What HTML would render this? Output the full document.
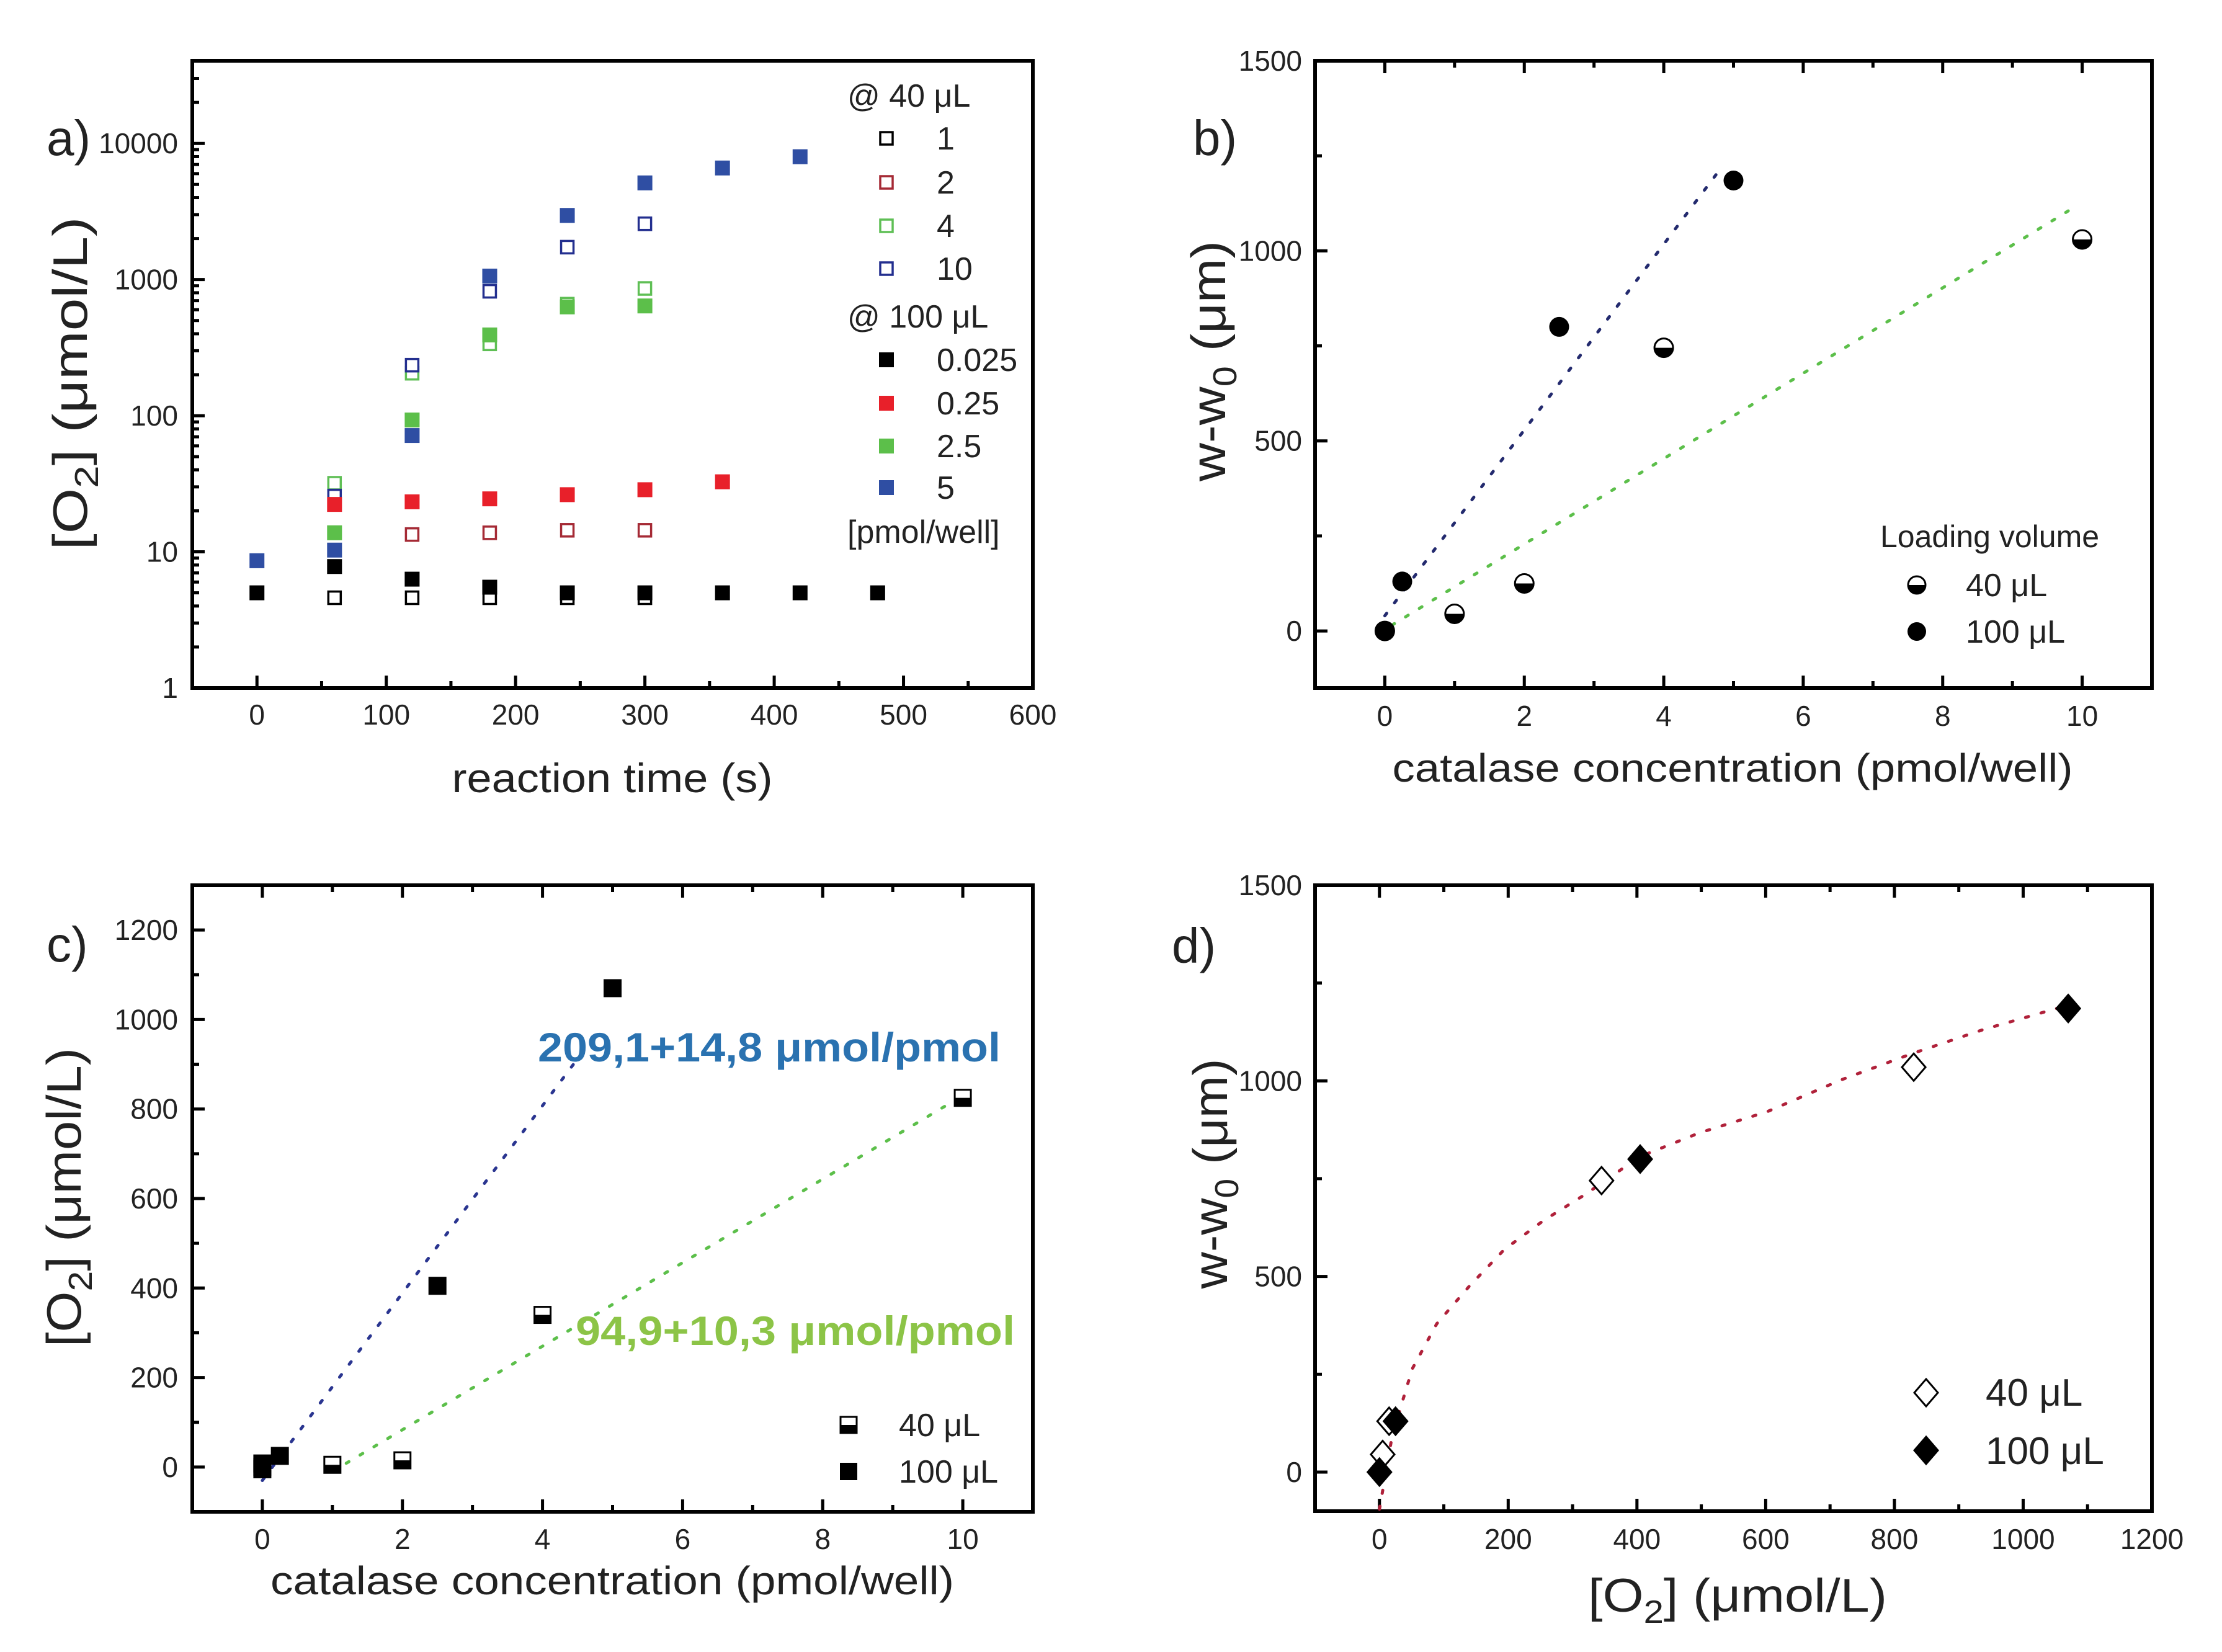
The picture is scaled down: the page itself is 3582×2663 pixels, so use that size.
<!DOCTYPE html>
<html><head><meta charset="utf-8"><style>
html,body{margin:0;padding:0;background:#fff;}
svg{display:block;font-family:"Liberation Sans",Arial,sans-serif;}
</style></head><body>
<svg id="fig" width="3582" height="2663" viewBox="0 0 3582 2663" xmlns="http://www.w3.org/2000/svg"></svg>
<script>
// ---------- Panel a data (reaction time, log O2) ----------
const aTimes = [0,60,120,180,240,300,360,420,480];
const aOpen1 = [null,4.6,4.6,4.6,4.6,4.6,null,null,null];
const aOpen2 = [null,null,13.4,13.8,14.4,14.4,null,null,null];
const aOpen4 = [null,31.9,205,337,660,860,null,null,null];
const aOpen10 = [null,25.7,235,820,1730,2570,null,null,null];
const aFill0025 = [5,7.8,6.3,5.5,5,5,5,5,5];
const aFill025 = [null,22.3,23.3,24.5,26.3,28.6,32.7,null,null];
const aFill25 = [null,13.8,93,392,630,640,null,null,null];
const aFill5 = [8.6,10.3,71.5,1060,2960,5130,6600,7990,null];
const aXTicks = [0,100,200,300,400,500,600];
const aYTicks = [1,10,100,1000,10000];
const aYTickLabels = ["1","10","100","1000","10000"];

// ---------- Panel b data ----------
const bX40 = [0,1,2,4,10];
const bY40 = [0,45,125,745,1030];
const bX100 = [0,0.25,2.5,5];
const bY100 = [0,130,800,1185];
const bFit100X = [0,4.85];
const bFit100Y = [40,1225];
const bFit40X = [0.1,9.8];
const bFit40Y = [15,1105];
const bXTicks = [0,2,4,6,8,10];
const bYTicks = [0,500,1000,1500];

// ---------- Panel c data ----------
const cX40 = [0,1,2,4,10];
const cY40 = [0,5,15,340,825];
const cX100 = [0,0,0.25,2.5,5];
const cY100 = [-5,8,25,405,1070];
const cFit100X = [0,4.8];
const cFit100Y = [-30,975];
const cFit40X = [1,10];
const cFit40Y = [-10,830];
const cXTicks = [0,2,4,6,8,10];
const cYTicks = [0,200,400,600,800,1000,1200];

// ---------- Panel d data ----------
const dX40 = [5,15,345,830];
const dY40 = [45,130,745,1035];
const dX100 = [0,25,405,1070];
const dY100 = [0,130,800,1185];
const dFitX = [0,20,51,89,139,194,255,321,404,497,602,718,828,938,1054];
const dFitY = [-95,95,264,379,474,569,643,711,806,867,921,1003,1070,1131,1186];
const dXTicks = [0,200,400,600,800,1000,1200];
const dYTicks = [0,500,1000,1500];

const NS = "http://www.w3.org/2000/svg";
const svg = document.getElementById('fig');
function mk(tag, attrs, parent, text){
  const e = document.createElementNS(NS, tag);
  for (const k in attrs) e.setAttribute(k, attrs[k]);
  if (text !== undefined) e.textContent = text;
  (parent||svg).appendChild(e);
  return e;
}
function makePanel(name, L, R, T, B, xmin, xmax, ymin, ymax, log){
  const g = mk('g', {});
  
  
  const p = {g, L, R, T, B,
    sx: v => L + (v - xmin) / (xmax - xmin) * (R - L),
    sy: v => { const t = log ? Math.log10(v) : v; return B - (t - ymin) / (ymax - ymin) * (B - T); }
  };
  return p;
}
function frame(p, topTicks, xMaj, xMin, yMaj, yMin, xLabels, yLabels, xLabY, yLabX){
  const f = mk('rect', {x:p.L, y:p.T, width:p.R-p.L, height:p.B-p.T, fill:'none', stroke:'#000', 'stroke-width':6}, p.g);
  
  
  const tg = mk('g', {stroke:'#000', 'stroke-width':5}, p.g);
  
  
  xMaj.forEach(v => { const x = p.sx(v); mk('line', {x1:x, x2:x, y1:p.B, y2:p.B-20}, tg); if (topTicks) mk('line', {x1:x, x2:x, y1:p.T, y2:p.T+20}, tg); });
  xMin.forEach(v => { const x = p.sx(v); mk('line', {x1:x, x2:x, y1:p.B, y2:p.B-11}, tg); if (topTicks) mk('line', {x1:x, x2:x, y1:p.T, y2:p.T+11}, tg); });
  yMaj.forEach(v => { const y = p.sy(v); mk('line', {x1:p.L, x2:p.L+20, y1:y, y2:y}, tg); });
  yMin.forEach(v => { const y = p.sy(v); mk('line', {x1:p.L, x2:p.L+11, y1:y, y2:y}, tg); });
  xMaj.forEach((v,i) => {
    const t = mk('text', {x:p.sx(v), y:xLabY, 'font-size':46, 'text-anchor':'middle', fill:'#222'}, p.g, xLabels[i]);
    
    
  });
  yMaj.forEach((v,i) => {
    const t = mk('text', {x:yLabX, y:p.sy(v)+16, 'font-size':46, 'text-anchor':'end', fill:'#222'}, p.g, yLabels[i]);
    
    
  });
}
function square(parent, cx, cy, s, style){
  const h = s/2;
  if (style === 'half'){
    mk('rect', {x:cx-h, y:cy-h, width:s, height:s, fill:'#fff', stroke:'#000', 'stroke-width':3}, parent);
    mk('rect', {x:cx-h, y:cy, width:s, height:h, fill:'#000'}, parent);
  } else if (style.open){
    mk('rect', {x:cx-h+2, y:cy-h+2, width:s-4, height:s-4, fill:'#fff', stroke:style.open, 'stroke-width':3.5}, parent);
  } else {
    mk('rect', {x:cx-h, y:cy-h, width:s, height:s, fill:style.fill}, parent);
  }
}
function halfCircle(parent, cx, cy, r){
  mk('circle', {cx, cy, r, fill:'#fff', stroke:'#000', 'stroke-width':3}, parent);
  mk('path', {d:`M${cx-r},${cy} A${r},${r} 0 0 0 ${cx+r},${cy} Z`, fill:'#000'}, parent);
}
function diamond(parent, cx, cy, w, h, filled){
  mk('polygon', {points:`${cx},${cy-h/2} ${cx+w/2},${cy} ${cx},${cy+h/2} ${cx-w/2},${cy}`, fill:filled?'#000':'#fff', stroke:'#000', 'stroke-width':3}, parent);
}
function dotted(p, xs, ys, color, name){
  const pts = xs.map((x,i) => p.sx(x)+','+p.sy(ys[i])).join(' ');
  const l = mk('polyline', {points:pts, fill:'none', stroke:color, 'stroke-width':5, 'stroke-dasharray':'5 21', 'stroke-linecap':'round'}, p.g);
  
  
}
function txt(parent, x, y, size, s, name, extra){
  const a = Object.assign({x, y, 'font-size':size, fill:'#222'}, extra||{});
  const t = mk('text', a, parent, s);
  
  
  return t;
}
function ytitle(parent, cx, cy, size, len, content, name){
  const t = mk('text', {transform:`translate(${cx},${cy}) rotate(-90)`, 'font-size':size, 'text-anchor':'middle', fill:'#222', textLength:len, lengthAdjust:'spacingAndGlyphs'}, parent);
  t.innerHTML = content;
  
  
}

// ================= Panel a =================
const pa = makePanel('panel-a', 310, 1665, 98, 1109, -50, 600, 0, 4.607, true);
const aMinorY = []; [1,10,100,1000,10000].forEach(d => { for (let k=2;k<=9;k++){ if (Math.log10(d*k) < 4.6) aMinorY.push(d*k); } });
frame(pa, false, aXTicks, [-50,50,150,250,350,450,550], aYTicks, aMinorY, aXTicks.map(String), aYTickLabels, 1168, 287);
const aSeries = [
  {vals:aOpen1, st:{open:'#000'}, n:'series-40ul-1'},
  {vals:aOpen2, st:{open:'#a52a35'}, n:'series-40ul-2'},
  {vals:aOpen4, st:{open:'#5fbf55'}, n:'series-40ul-4'},
  {vals:aOpen10, st:{open:'#232f8f'}, n:'series-40ul-10'},
  {vals:aFill0025, st:{fill:'#000'}, n:'series-100ul-0025'},
  {vals:aFill025, st:{fill:'#e8202a'}, n:'series-100ul-025'},
  {vals:aFill25, st:{fill:'#5cbf4a'}, n:'series-100ul-25'},
  {vals:aFill5, st:{fill:'#2f4ea3'}, n:'series-100ul-5'}
];
aSeries.forEach(s => {
  const g = mk('g', {}, pa.g);
  
  
  s.vals.forEach((v,i) => { if (v !== null) square(g, pa.sx(aTimes[i]), pa.sy(v), 24, s.st); });
});
const aLeg = mk('g', {}, pa.g);


txt(aLeg, 1366, 172, 52, '@ 40 μL', 'legend-header-40ul');
const aLegLabels = ['1','2','4','10'];
const aLegLabels2 = ['0.025','0.25','2.5','5'];
const aLegRows = [223,294,364,433];
const aLegRows2 = [580,650,719,786];
aSeries.slice(0,4).forEach((s,i) => { square(aLeg, 1429, aLegRows[i], 24, s.st); txt(aLeg, 1510, aLegRows[i]+18, 52, aLegLabels[i], 'legend-entry'); });
txt(aLeg, 1366, 528, 52, '@ 100 μL', 'legend-header-100ul');
aSeries.slice(4).forEach((s,i) => { square(aLeg, 1429, aLegRows2[i], 24, s.st); txt(aLeg, 1510, aLegRows2[i]+18, 52, aLegLabels2[i], 'legend-entry'); });
txt(aLeg, 1366, 875, 52, '[pmol/well]', 'legend-unit');
txt(pa.g, 75, 250, 80, 'a)', 'panel-label-a');
txt(pa.g, 987, 1277, 66, 'reaction time (s)', 'x-axis-title', {'text-anchor':'middle', textLength:517, lengthAdjust:'spacingAndGlyphs'});
ytitle(pa.g, 140, 618, 78, 537, '[O<tspan font-size="54" dy="18">2</tspan><tspan dy="-18">] (μmol/L)</tspan>', 'y-axis-title');

// ================= Panel b =================
const pb = makePanel('panel-b', 2120, 3469, 98, 1109, -1, 11, -150, 1500, false);
frame(pb, true, bXTicks, [1,3,5,7,9], bYTicks, [250,750,1250], bXTicks.map(String), bYTicks.map(String), 1170, 2099);
dotted(pb, bFit100X, bFit100Y, '#232a6e', 'fit-line-100ul');
dotted(pb, bFit40X, bFit40Y, '#5cbf4a', 'fit-line-40ul');
const b40 = mk('g', {}, pb.g);


bX40.forEach((x,i) => halfCircle(b40, pb.sx(x), pb.sy(bY40[i]), 15));
const b100 = mk('g', {}, pb.g);


bX100.forEach((x,i) => mk('circle', {cx:pb.sx(x), cy:pb.sy(bY100[i]), r:16, fill:'#000'}, b100));
txt(pb.g, 3031, 882, 50, 'Loading volume', 'legend-title');
halfCircle(pb.g, 3090, 943, 14);
txt(pb.g, 3169, 961, 52, '40 μL', 'legend-entry-40ul');
mk('circle', {cx:3090, cy:1018, r:15, fill:'#000'}, pb.g);
txt(pb.g, 3169, 1036, 52, '100 μL', 'legend-entry-100ul');
txt(pb.g, 1923, 250, 80, 'b)', 'panel-label-b');
txt(pb.g, 2793, 1260, 64, 'catalase concentration (pmol/well)', 'x-axis-title', {'text-anchor':'middle', textLength:1097, lengthAdjust:'spacingAndGlyphs'});
ytitle(pb.g, 1975, 582, 78, 388, 'w-w<tspan font-size="54" dy="18">0</tspan><tspan dy="-18"> (μm)</tspan>', 'y-axis-title');

// ================= Panel c =================
const pc = makePanel('panel-c', 310, 1665, 1427, 2437, -1, 11, -100, 1300, false);
frame(pc, true, cXTicks, [1,3,5,7,9], cYTicks, [100,300,500,700,900,1100], cXTicks.map(String), cYTicks.map(String), 2497, 287);
dotted(pc, cFit100X, cFit100Y, '#2a3590', 'fit-line-100ul');
dotted(pc, cFit40X, cFit40Y, '#5cbf4a', 'fit-line-40ul');
const c40 = mk('g', {}, pc.g);


cX40.forEach((x,i) => square(c40, pc.sx(x), pc.sy(cY40[i]), 26, 'half'));
const c100 = mk('g', {}, pc.g);


cX100.forEach((x,i) => square(c100, pc.sx(x), pc.sy(cY100[i]), 29, {fill:'#000'}));
txt(pc.g, 867, 1711, 66, '209,1+14,8 μmol/pmol', 'slope-annotation-100ul', {fill:'#2a72b0', 'font-weight':'bold', textLength:746, lengthAdjust:'spacingAndGlyphs'});
txt(pc.g, 928, 2168, 66, '94,9+10,3 μmol/pmol', 'slope-annotation-40ul', {fill:'#8cc447', 'font-weight':'bold', textLength:708, lengthAdjust:'spacingAndGlyphs'});
square(pc.g, 1368, 2297, 26, 'half');
txt(pc.g, 1449, 2315, 52, '40 μL', 'legend-entry-40ul');
square(pc.g, 1368, 2372, 28, {fill:'#000'});
txt(pc.g, 1449, 2390, 52, '100 μL', 'legend-entry-100ul');
txt(pc.g, 75, 1550, 80, 'c)', 'panel-label-c');
txt(pc.g, 987, 2570, 64, 'catalase concentration (pmol/well)', 'x-axis-title', {'text-anchor':'middle', textLength:1102, lengthAdjust:'spacingAndGlyphs'});
ytitle(pc.g, 130, 1930, 78, 482, '[O<tspan font-size="54" dy="18">2</tspan><tspan dy="-18">] (μmol/L)</tspan>', 'y-axis-title');

// ================= Panel d =================
const pd = makePanel('panel-d', 2120, 3469, 1427, 2436, -100, 1200, -100, 1500, false);
frame(pd, true, dXTicks, [100,300,500,700,900,1100], dYTicks, [250,750,1250], dXTicks.map(String), dYTicks.map(String), 2497, 2099);
dotted(pd, dFitX, dFitY, '#b0213a', 'fit-curve');
const d40 = mk('g', {}, pd.g);


dX40.forEach((x,i) => diamond(d40, pd.sx(x), pd.sy(dY40[i]), 38, 44, false));
const d100 = mk('g', {}, pd.g);


dX100.forEach((x,i) => diamond(d100, pd.sx(x), pd.sy(dY100[i]), 38, 44, true));
diamond(pd.g, 3105, 2245, 38, 44, false);
txt(pd.g, 3201, 2266, 62, '40 μL', 'legend-entry-40ul');
diamond(pd.g, 3105, 2338, 38, 44, true);
txt(pd.g, 3201, 2360, 62, '100 μL', 'legend-entry-100ul');
txt(pd.g, 1889, 1552, 80, 'd)', 'panel-label-d');
const dxt = mk('text', {x:2801, y:2598, 'font-size':76, 'text-anchor':'middle', fill:'#222', textLength:482, lengthAdjust:'spacingAndGlyphs'}, pd.g);
dxt.innerHTML = '[O<tspan font-size="52" dy="18">2</tspan><tspan dy="-18">] (μmol/L)</tspan>';


ytitle(pd.g, 1978, 1892, 78, 371, 'w-w<tspan font-size="54" dy="18">0</tspan><tspan dy="-18"> (μm)</tspan>', 'y-axis-title');
</script>
</body></html>
